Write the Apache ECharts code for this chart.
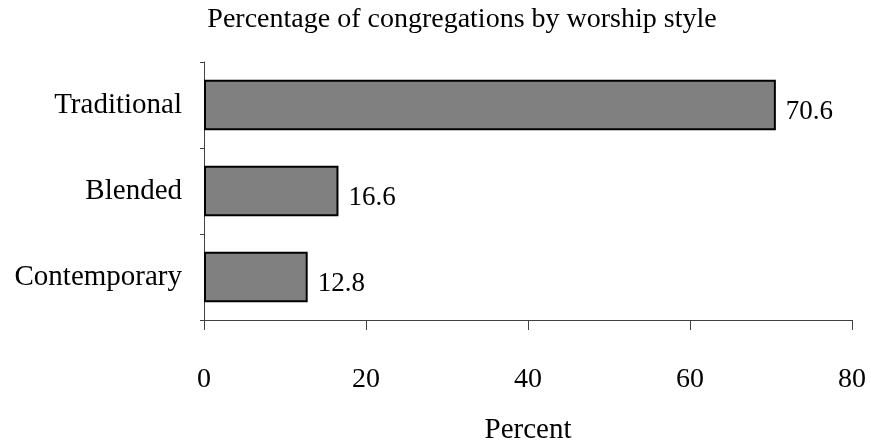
<!DOCTYPE html>
<html>
<head>
<meta charset="utf-8">
<script src="https://cdn.jsdelivr.net/npm/echarts@6/dist/echarts.min.js"></script>
<style>
  html, body { margin: 0; padding: 0; background: #fff; }
  #chart { width: 871px; height: 444px; }
</style>
</head>
<body>
<div id="chart"></div>
<script>
// worship styles, top to bottom
const styles = ["Traditional", "Blended", "Contemporary"];
const percents = [70.6, 16.6, 12.8];
const xTicks = [0, 20, 40, 60, 80];

const serif = "'Liberation Serif', 'DejaVu Serif', serif";

let myChart = echarts.init(document.getElementById("chart"));

let option = {
  animation: false,
  title: {
    text: "Percentage of congregations by worship style",
    left: 457,
    textAlign: "center",
    top: 1,
    textStyle: { fontFamily: serif, fontSize: 28, fontWeight: "normal", color: "#000" }
  },
  grid: { left: 204, right: 19, top: 62, bottom: 124, outerBoundsMode: "none", containLabel: false },
  xAxis: {
    type: "value",
    min: xTicks[0],
    max: xTicks[xTicks.length - 1],
    interval: 20,
    name: "Percent",
    nameLocation: "middle",
    nameGap: 96,
    nameTextStyle: { fontFamily: serif, fontSize: 29, color: "#000" },
    axisLine: { show: true, lineStyle: { color: "#404040", width: 1 } },
    axisTick: { show: true, length: 10, lineStyle: { color: "#404040" } },
    axisLabel: { margin: 46, fontFamily: serif, fontSize: 28, color: "#000" },
    splitLine: { show: false }
  },
  yAxis: {
    type: "category",
    inverse: true,
    data: styles,
    axisLine: { show: true, lineStyle: { color: "#404040", width: 1 } },
    axisTick: { show: true, length: 4, lineStyle: { color: "#404040" } },
    axisLabel: { margin: 22, fontFamily: serif, fontSize: 29, color: "#000" }
  },
  series: [
    {
      type: "bar",
      data: percents,
      barWidth: "59%",
      itemStyle: { color: "#808080", borderColor: "#000", borderWidth: 2 },
      label: {
        show: true,
        position: "right",
        distance: 10,
        offset: [0, 7],
        fontFamily: serif,
        fontSize: 27,
        color: "#000"
      }
    }
  ]
};

myChart.setOption(option);
</script>
</body>
</html>
